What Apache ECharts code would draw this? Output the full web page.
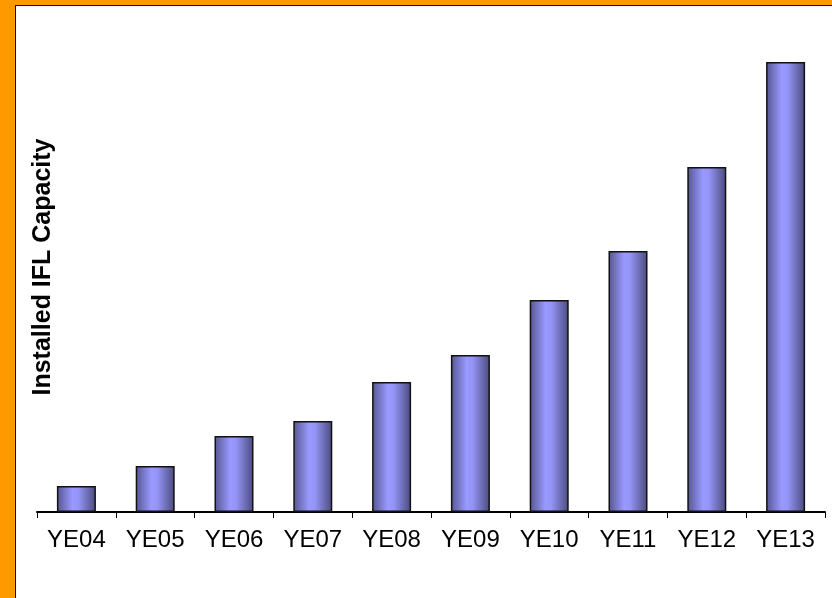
<!DOCTYPE html>
<html>
<head>
<meta charset="utf-8">
<script src="https://cdn.jsdelivr.net/npm/echarts@6/dist/echarts.min.js"></script>
<style>
html, body { margin: 0; padding: 0; background: #FF9900; }
#frame {
    position: absolute; left: 15px; top: 5px; width: 817px; height: 593px;
    background: #fff; border-left: 1px solid #111; border-top: 1px solid #111;
    box-sizing: border-box;
}
#chart { position: absolute; left: 0; top: 0; width: 832px; height: 598px; }
</style>
</head>
<body>
<div id="frame"></div>
<div id="chart"></div>
<script>
// categories and bar heights (no scale shown in the original, read as relative sizes)
var years = ['YE04', 'YE05', 'YE06', 'YE07', 'YE08', 'YE09', 'YE10', 'YE11', 'YE12', 'YE13'];
var capacity = [26, 46, 76, 91, 130, 157, 212, 261, 345, 450];

var myChart = echarts.init(document.getElementById('chart'));

var barFill = new echarts.graphic.LinearGradient(0, 0, 1, 0, [
    { offset: 0, color: '#55558f' },
    { offset: 0.4, color: '#9999ff' },
    { offset: 0.55, color: '#9595f8' },
    { offset: 1, color: '#4a4a7c' }
]);

var option = {
    backgroundColor: 'transparent',
    animation: false,
    grid: { left: 37, right: 7, top: 12, bottom: 86 },
    xAxis: {
        type: 'category',
        data: years,
        axisLine: { lineStyle: { color: '#000', width: 2 } },
        axisTick: { show: true, length: 6, lineStyle: { color: '#000', width: 1 } },
        axisLabel: {
            color: '#000', fontFamily: 'Liberation Sans', fontSize: 24, margin: 16
        }
    },
    yAxis: {
        type: 'value',
        min: 0,
        max: 500,
        name: 'Installed IFL Capacity',
        nameLocation: 'middle',
        nameGap: -19,
        nameTextStyle: {
            color: '#000', fontFamily: 'Liberation Sans', fontSize: 25, fontWeight: 'bold',
            padding: [0, 10, 0, 0]
        },
        axisLine: { show: false },
        axisTick: { show: false },
        axisLabel: { show: false },
        splitLine: { show: false }
    },
    series: [{
        type: 'bar',
        data: capacity,
        barWidth: 39,
        itemStyle: { color: barFill, borderColor: '#111', borderWidth: 1.5 }
    }]
};

option && myChart.setOption(option);
</script>
</body>
</html>
